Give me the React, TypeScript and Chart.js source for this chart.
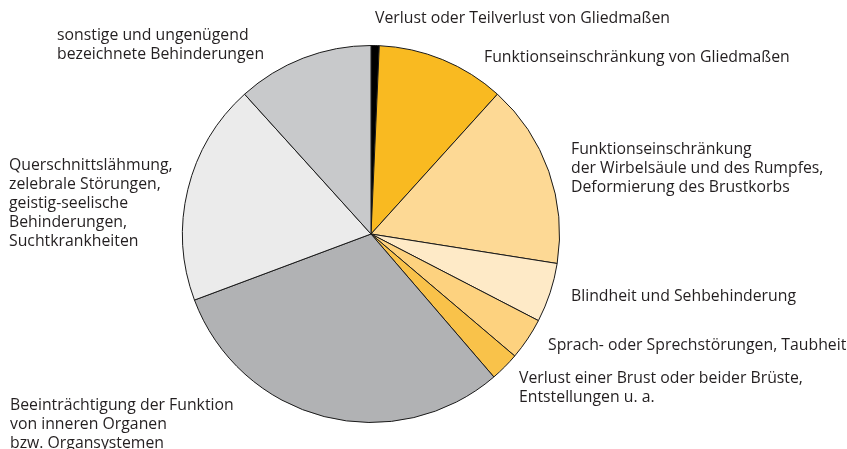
import React, { useEffect, useRef } from "react";
import { Chart, registerables } from "chart.js";

Chart.register(...registerables);

const categories = [
  "Verlust oder Teilverlust von Gliedmaßen",
  "Funktionseinschränkung von Gliedmaßen",
  "Funktionseinschränkung der Wirbelsäule und des Rumpfes, Deformierung des Brustkorbs",
  "Blindheit und Sehbehinderung",
  "Sprach- oder Sprechstörungen, Taubheit",
  "Verlust einer Brust oder beider Brüste, Entstellungen u. a.",
  "Beeinträchtigung der Funktion von inneren Organen bzw. Organsystemen",
  "Querschnittslähmung, zelebrale Störungen, geistig-seelische Behinderungen, Suchtkrankheiten",
  "sonstige und ungenügend bezeichnete Behinderungen",
];

const shares = [0.7, 11.0, 15.8, 5.1, 3.6, 2.5, 30.6, 19.0, 11.7];

const sliceColors = [
  "#000000",
  "#F9BA21",
  "#FDD995",
  "#FEEAC7",
  "#FDD27F",
  "#F9C24A",
  "#B1B2B4",
  "#EBEBEB",
  "#C8C9CB",
];

const labelLines = [
  ["Verlust oder Teilverlust von Gliedmaßen"],
  ["Funktionseinschränkung von Gliedmaßen"],
  ["Funktionseinschränkung", "der Wirbelsäule und des Rumpfes,", "Deformierung des Brustkorbs"],
  ["Blindheit und Sehbehinderung"],
  ["Sprach- oder Sprechstörungen, Taubheit"],
  ["Verlust einer Brust oder beider Brüste,", "Entstellungen u. a."],
  ["Beeinträchtigung der Funktion", "von inneren Organen", "bzw. Organsystemen"],
  ["Querschnittslähmung,", "zelebrale Störungen,", "geistig-seelische", "Behinderungen,", "Suchtkrankheiten"],
  ["sonstige und ungenügend", "bezeichnete Behinderungen"],
];

// label anchor (left x, middle y of first line) in canvas pixels
const labelAnchors = [
  [375, 18],
  [484, 57],
  [571, 149],
  [571, 296],
  [548, 345],
  [519, 378],
  [10, 405],
  [9, 165],
  [57, 35],
];

const LINE_HEIGHT = 19;

const labelPlugin = {
  id: "pieLabels",
  afterDraw(chart: any) {
    const ctx = chart.ctx;
    ctx.save();
    ctx.fillStyle = "#231f20";
    ctx.font = '15.8px "Open Sans"';
    ctx.textBaseline = "middle";
    ctx.textAlign = "left";
    labelLines.forEach((lines, i) => {
      const [x, y] = labelAnchors[i];
      lines.forEach((t, j) => ctx.fillText(t, x, y + j * LINE_HEIGHT));
    });
    ctx.restore();
  },
};

export default function App() {
  const ref = useRef<HTMLCanvasElement>(null);
  useEffect(() => {
    if (!ref.current) return;
    const chart = new Chart(ref.current, {
      type: "pie",
      data: {
        labels: categories,
        datasets: [
          {
            data: shares,
            backgroundColor: sliceColors,
            borderColor: "#1a1a1a",
            borderWidth: 1,
          },
        ],
      },
      options: {
        responsive: false,
        animation: false,
        layout: { padding: { left: 182, right: 287, top: 45, bottom: 26 } },
        plugins: {
          legend: { display: false },
          tooltip: { enabled: false },
        },
      },
      plugins: [labelPlugin],
    });
    return () => chart.destroy();
  }, []);
  return (
    <div style={{ position: "fixed", left: 0, top: 0, width: 847, height: 449, background: "#fff" }}>
      <canvas ref={ref} width={847} height={449} />
    </div>
  );
}
